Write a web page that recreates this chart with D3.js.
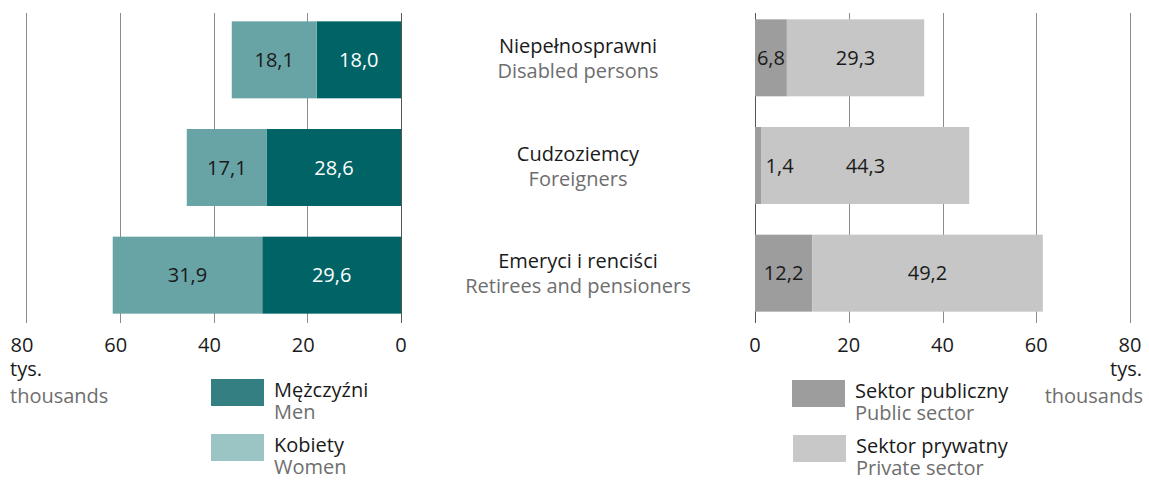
<html>
<head>
<meta charset="utf-8">
<style>
  body { margin: 0; background: #fff; }
  text { font-family: "Open Sans", "Noto Sans", sans-serif; }
  .grid line { stroke: #8c8c8c; stroke-width: 1px; }
  .tick-label { font-size: 20px; fill: #1a1a1a; text-anchor: middle; }
  .pl { font-size: 20px; fill: #1a1a1a; }
  .en { font-size: 20px; fill: #6e6e6e; }
  .val { font-size: 20px; text-anchor: middle; }
</style>
</head>
<body>
<script src="https://cdn.jsdelivr.net/npm/d3@7"></script>
<script>
// categories (top to bottom)
var categoriesPl = ["Niepełnosprawni", "Cudzoziemcy", "Emeryci i renciści"];
var categoriesEn = ["Disabled persons", "Foreigners", "Retirees and pensioners"];

// thousands
var men = [18.0, 28.6, 29.6];
var women = [18.1, 17.1, 31.9];
var publicSector = [6.8, 1.4, 12.2];
var privateSector = [29.3, 44.3, 49.2];

var ticks = [0, 20, 40, 60, 80];

var colMen = "#006466", colWomen = "#68a3a5";
var colMenLeg = "#337f82", colWomenLeg = "#9bc4c5";
var colPublic = "#9d9d9d", colPrivate = "#c6c6c6";

var svg = d3.select("body").append("svg")
    .attr("width", 1149)
    .attr("height", 480);

var fmt = function(v) { return d3.format(".1f")(v).replace(".", ","); };

// scales
var xLeft = d3.scaleLinear().domain([0, 80]).range([401, 26]);
var xRight = d3.scaleLinear().domain([0, 80]).range([755, 1130]);
var y = d3.scaleBand()
    .domain(categoriesPl)
    .range([6, 329])
    .paddingInner(0.285)
    .paddingOuter(0.1425);

var gridTop = 13, gridBottom = 323;

// gridlines + tick labels
[xLeft, xRight].forEach(function(x, k) {
  svg.append("g").attr("class", "grid")
    .selectAll("line")
    .data(ticks)
    .enter().append("line")
      .attr("x1", function(d) { return Math.round(x(d)) + 0.5; })
      .attr("x2", function(d) { return Math.round(x(d)) + 0.5; })
      .attr("y1", gridTop)
      .attr("y2", gridBottom)
      .style("stroke", function(d) { return d === 0 ? "#555" : null; });

  svg.append("g")
    .selectAll("text")
    .data(ticks)
    .enter().append("text")
      .attr("class", "tick-label")
      .attr("x", function(d) { return x(d) - (k === 0 && d > 0 ? 4 : 0); })
      .attr("y", 352)
      .text(function(d) { return d; });
});

// left: men (inner) + women (outer)
var left = svg.append("g");
categoriesPl.forEach(function(c, i) {
  var yy = y(c), h = y.bandwidth();
  left.append("rect")
    .attr("x", xLeft(men[i])).attr("y", yy)
    .attr("width", xLeft(0) - xLeft(men[i])).attr("height", h)
    .attr("fill", colMen);
  left.append("rect")
    .attr("x", xLeft(men[i] + women[i])).attr("y", yy)
    .attr("width", xLeft(men[i]) - xLeft(men[i] + women[i])).attr("height", h)
    .attr("fill", colWomen);
  left.append("text").attr("class", "val")
    .attr("x", (xLeft(0) + xLeft(men[i])) / 2)
    .attr("y", yy + h / 2 + 7)
    .attr("fill", "#fff")
    .text(fmt(men[i]));
  left.append("text").attr("class", "val")
    .attr("x", (xLeft(men[i]) + xLeft(men[i] + women[i])) / 2)
    .attr("y", yy + h / 2 + 7)
    .attr("fill", "#1a1a1a")
    .text(fmt(women[i]));
});

// right: public + private
var right = svg.append("g");
categoriesPl.forEach(function(c, i) {
  var yy = y(c) - 2, h = y.bandwidth();
  var pubW = xRight(publicSector[i]) - xRight(0);
  right.append("rect")
    .attr("x", xRight(0)).attr("y", yy)
    .attr("width", pubW).attr("height", h)
    .attr("fill", colPublic);
  right.append("rect")
    .attr("x", xRight(publicSector[i])).attr("y", yy)
    .attr("width", xRight(publicSector[i] + privateSector[i]) - xRight(publicSector[i])).attr("height", h)
    .attr("fill", colPrivate);
  // narrow segment: label sits just past it
  right.append("text").attr("class", "val")
    .attr("x", pubW < 20 ? xRight(publicSector[i]) + 18 : (xRight(0) + xRight(publicSector[i])) / 2)
    .attr("y", yy + h / 2 + 7)
    .attr("fill", "#1a1a1a")
    .text(fmt(publicSector[i]));
  right.append("text").attr("class", "val")
    .attr("x", (xRight(publicSector[i]) + xRight(publicSector[i] + privateSector[i])) / 2)
    .attr("y", yy + h / 2 + 7)
    .attr("fill", "#1a1a1a")
    .text(fmt(privateSector[i]));
});

// category labels in the middle
var mid = svg.append("g").attr("text-anchor", "middle");
categoriesPl.forEach(function(c, i) {
  var cy = y(c) + y.bandwidth() / 2;
  mid.append("text").attr("class", "pl").attr("x", 578).attr("y", cy - 7).text(c);
  mid.append("text").attr("class", "en").attr("x", 578).attr("y", cy + 18).text(categoriesEn[i]);
});

// unit labels
svg.append("text").attr("class", "pl").attr("x", 10).attr("y", 376).text("tys.");
svg.append("text").attr("class", "en").attr("x", 10).attr("y", 403).text("thousands");
svg.append("text").attr("class", "pl").attr("x", 1142).attr("y", 376).attr("text-anchor", "end").text("tys.");
svg.append("text").attr("class", "en").attr("x", 1143).attr("y", 403).attr("text-anchor", "end").text("thousands");

// legends
function legendItem(x, yTop, color, pl, en) {
  svg.append("rect").attr("x", x).attr("y", yTop).attr("width", 53).attr("height", 27).attr("fill", color);
  svg.append("text").attr("class", "pl").attr("x", x + 63).attr("y", yTop + 18).text(pl);
  svg.append("text").attr("class", "en").attr("x", x + 63).attr("y", yTop + 40).text(en);
}
legendItem(211, 379, colMenLeg, "Mężczyźni", "Men");
legendItem(211, 434, colWomenLeg, "Kobiety", "Women");
legendItem(792, 380, colPublic, "Sektor publiczny", "Public sector");
legendItem(793, 435, "#c8c8c8", "Sektor prywatny", "Private sector");
</script>
</body>
</html>
